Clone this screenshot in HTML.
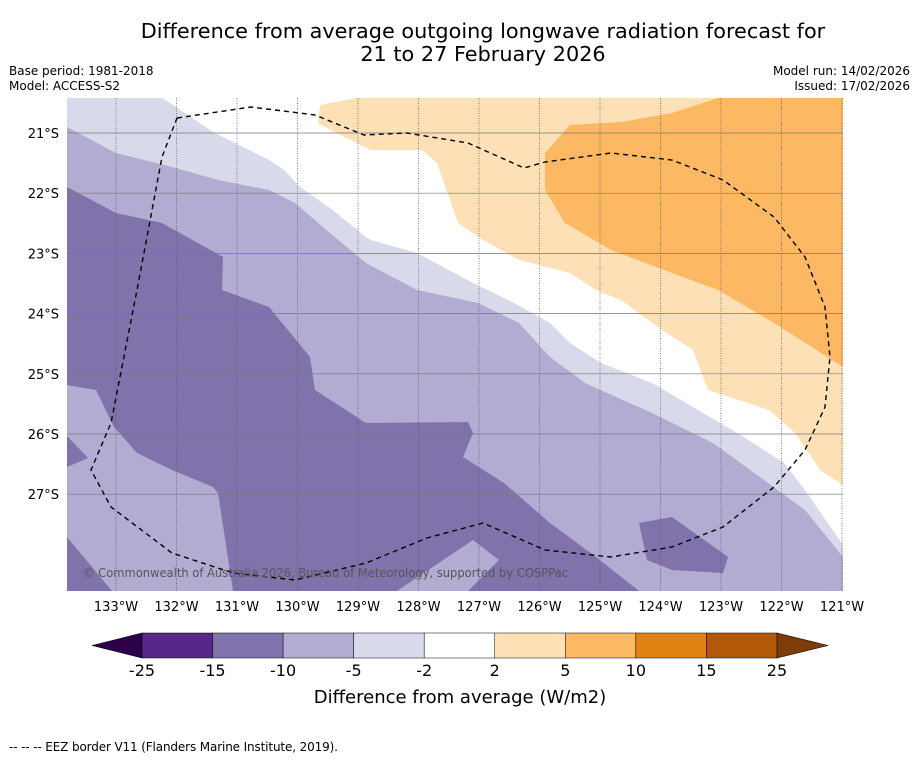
<!DOCTYPE html>
<html><head><meta charset="utf-8"><style>
body{margin:0;background:#fff;}
svg text{font-family:"DejaVu Sans","Liberation Sans",sans-serif;}
</style></head><body>
<svg width="919" height="758" viewBox="0 0 919 758" xmlns="http://www.w3.org/2000/svg">
<g id="map"></g>
<g id="axes"></g>
<g id="cbar"></g>
<text x="483" y="38" font-size="20.8" text-anchor="middle">Difference from average outgoing longwave radiation forecast for</text>
<text x="483" y="61" font-size="20.8" text-anchor="middle">21 to 27 February 2026</text>
<text x="9" y="75" font-size="12">Base period: 1981-2018</text>
<text x="9" y="90" font-size="12">Model: ACCESS-S2</text>
<text x="910" y="75" font-size="12" text-anchor="end">Model run: 14/02/2026</text>
<text x="910" y="90" font-size="12" text-anchor="end">Issued: 17/02/2026</text>
<text x="460" y="703" font-size="18" text-anchor="middle">Difference from average (W/m2)</text>
<text x="9" y="751" font-size="12" textLength="329">--  --  -- EEZ border V11 (Flanders Marine Institute, 2019).</text>
</svg>
<script>
const lons=[-133,-132,-131,-130,-129,-128,-127,-126,-125,-124,-123,-122,-121];
const lats=[-21,-22,-23,-24,-25,-26,-27];
const cbLevels=[-25,-15,-10,-5,-2,2,5,10,15,25];
const cbColors=["#542788","#8073ac","#b2abd2","#d8daeb","#ffffff","#fee0b6","#fdb863","#e08214","#b35806"];
const cbUnder="#2d004b", cbOver="#7f3b08";
const MX0=67,MX1=843,MY0=98,MY1=591;
function xS(lon){return 116+(lon+133)*60.5;}
function yS(lat){return 133+(-21-lat)*60.2;}
const NS="http://www.w3.org/2000/svg";
function mk(tag,at,parent){const e=document.createElementNS(NS,tag);for(const k in at)e.setAttribute(k,at[k]);parent.appendChild(e);return e;}
const map=document.getElementById('map');
const ax=document.getElementById('axes');
const midBase=[[MX0,MY0],[MX1,MY0],[MX1,MY1],[MX0,MY1]];
const darkMain=[[67,187],[116,213],[162,223],[223,257],[222,290],[269,307],[310,357],[315,390],[366,423],[468,422],[473,433],[463,457],[504,483],[550,523],[596,557],[639,591],[468,591],[499,560],[473,540],[397,591],[233,591],[218,493],[213,487],[172,470],[137,453],[114,427],[96,390],[67,385]];
const darkNotch=[[67,436],[88,458],[67,467]];
const darkCorner=[[67,537],[112,591],[67,591]];
const darkPatch=[[639,523],[672,517],[728,557],[723,573],[672,570],[647,560]];
const lightBand=[[67,98],[67,127],[116,153],[172,167],[218,180],[269,190],[295,203],[330,233],[366,263],[417,290],[478,303],[519,323],[550,357],[585,383],[652,413],[713,443],[764,480],[805,510],[843,557],[843,585],[843,98]];
const whiteBand=[[162,98],[170,103],[213,132],[269,160],[284,170],[300,187],[330,208],[366,237],[371,240],[417,253],[473,283],[514,303],[550,323],[570,343],[601,363],[652,383],[698,410],[744,437],[784,463],[805,490],[843,545],[843,98]];
const lorange=[[356,98],[320,105],[318,123],[336,133],[371,150],[422,150],[437,163],[458,223],[483,240],[519,260],[570,273],[596,290],[621,300],[662,330],[693,350],[708,390],[769,410],[795,433],[820,470],[843,485],[843,98]];
const orange=[[718,98],[672,113],[621,122],[570,125],[545,153],[545,190],[565,223],[611,250],[672,273],[718,290],[774,323],[843,367],[843,98]];
const eez=[[177,118],[251,107],[315,115],[364,135],[407,133],[468,143],[524,168],[545,162],[611,153],[672,160],[723,180],[774,217],[805,257],[825,307],[830,357],[825,407],[805,450],[774,487],[723,527],[672,547],[611,557],[545,550],[483,523],[427,538],[366,563],[295,580],[233,573],[172,553],[111,507],[91,470],[111,423],[137,290],[162,157],[177,118]];
function poly(pts,fill,name){const p=mk('polygon',{points:pts.map(p=>p.join(',')).join(' '),fill:fill},map);

}
poly(midBase,cbColors[2],'contour-minus10-minus5');
poly(darkMain,cbColors[1],'contour-minus15-minus10');
poly(darkNotch,cbColors[1],'contour-minus15-minus10-notch');
poly(darkCorner,cbColors[1],'contour-minus15-minus10-corner');
poly(darkPatch,cbColors[1],'contour-minus15-minus10-patch');
poly(lightBand,cbColors[3],'contour-minus5-minus2');
poly(whiteBand,cbColors[4],'contour-minus2-2');
poly(lorange,cbColors[5],'contour-2-5');
poly(orange,cbColors[6],'contour-5-10');
lons.forEach(l=>{const x=xS(l);const g=mk('line',{x1:x,x2:x,y1:MY0,y2:MY1,stroke:'#555',"stroke-width":0.7,"stroke-dasharray":"1,1.5"},map);


const t=mk('text',{x:x,y:611,"font-size":13,"text-anchor":"middle"},ax);t.textContent=(-l)+'°W';

});
lats.forEach(l=>{const y=yS(l);const g=mk('line',{x1:MX0,x2:MX1,y1:y,y2:y,stroke:'#777',"stroke-width":0.7},map);


const t=mk('text',{x:59,y:y+5,"font-size":13,"text-anchor":"end"},ax);t.textContent=(-l)+'°S';

});
const ez=mk('polyline',{points:eez.map(p=>p.join(',')).join(' '),fill:'none',stroke:'#000',"stroke-width":1.4,"stroke-dasharray":"5,4"},map);


const cp=mk('text',{x:83,y:577,"font-size":12,fill:'#555',textLength:485,lengthAdjust:'spacingAndGlyphs'},map);cp.textContent='© Commonwealth of Australia 2026, Bureau of Meteorology, supported by COSPPac';


const cb=document.getElementById('cbar');
const CB0=142,CBW=70.55,CY0=633,CY1=658;
function cx(i){return CB0+i*CBW;}
const tl=mk('polygon',{points:`${cx(0)},${CY0} 92,${(CY0+CY1)/2} ${cx(0)},${CY1}`,fill:cbUnder,stroke:'#000',"stroke-width":0.6},cb);


const n=cbColors.length;
const tr=mk('polygon',{points:`${cx(n)},${CY0} 828,${(CY0+CY1)/2} ${cx(n)},${CY1}`,fill:cbOver,stroke:'#000',"stroke-width":0.6},cb);


cbColors.forEach((c,i)=>{const r=mk('rect',{x:cx(i),y:CY0,width:CBW,height:CY1-CY0,fill:c,stroke:'#000',"stroke-width":0.5},cb);

});
cbLevels.forEach((v,i)=>{const t=mk('text',{x:cx(i),y:676,"font-size":16,"text-anchor":"middle"},cb);t.textContent=v;

});
</script>
</body></html>
